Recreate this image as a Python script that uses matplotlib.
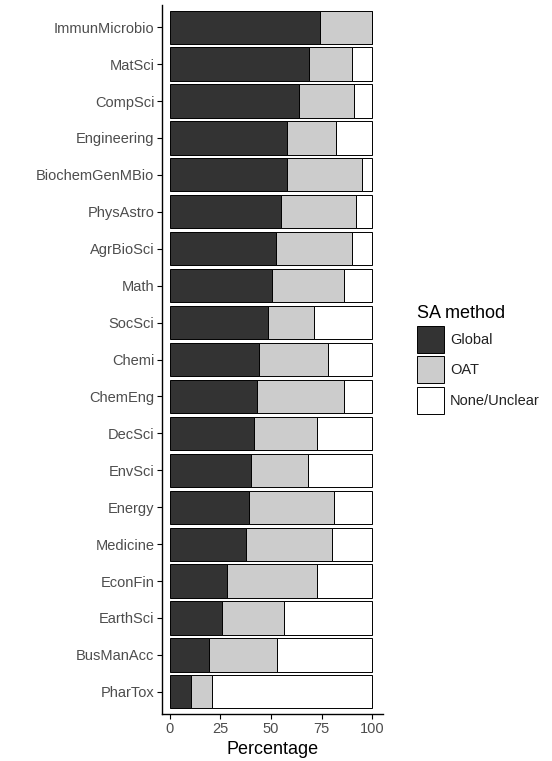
import matplotlib
matplotlib.use("Agg")
import matplotlib.pyplot as plt
from matplotlib.patches import Patch
import numpy as np

plt.rcParams['font.family'] = ['Liberation Sans', 'DejaVu Sans']

categories = ["ImmunMicrobio", "MatSci", "CompSci", "Engineering", "BiochemGenMBio",
              "PhysAstro", "AgrBioSci", "Math", "SocSci", "Chemi", "ChemEng", "DecSci",
              "EnvSci", "Energy", "Medicine", "EconFin", "EarthSci", "BusManAcc", "PharTox"]
global_pct = [74, 69, 64, 58, 58, 55, 52.5, 50.5, 48.5, 44.2, 43.3, 41.7, 40.4, 39.4,
              37.8, 28.6, 26, 19.6, 10.7]
oat_pct = [26, 21, 27, 24, 37, 37, 37.5, 35.5, 23, 34, 42.9, 31.2, 28, 41.7,
           42.5, 44, 30.5, 33.3, 10.5]
none_pct = [100 - g - o for g, o in zip(global_pct, oat_pct)]

series_names = ["Global", "OAT", "None/Unclear"]
colors = ["#333333", "#CCCCCC", "#FFFFFF"]
xticks = [0, 25, 50, 75, 100]

fig = plt.figure(figsize=(5.52, 7.61), dpi=100)
ax = fig.add_axes([162/552, 47/761, (383-162)/552, (756-47)/761])

n = len(categories)
y = np.arange(n)[::-1]
left = np.zeros(n)
for name, vals, col in zip(series_names, [global_pct, oat_pct, none_pct], colors):
    vals = np.array(vals, dtype=float)
    ax.barh(y, vals, left=left, height=0.9, color=col, edgecolor='black', linewidth=0.7, label=name)
    left += vals

ax.set_xlim(-3.7, 105.3)
ax.set_ylim(-0.6, n - 1 + 0.6)
ax.set_yticks(y)
ax.set_yticklabels(categories)
ax.set_xticks(xticks)
ax.set_xticklabels([str(t) for t in xticks])
ax.tick_params(axis='both', colors='black', labelcolor='#4D4D4D', labelsize=10.5, length=3.5, width=0.8, pad=2)
for s in ['top', 'right']:
    ax.spines[s].set_visible(False)
for s in ['left', 'bottom']:
    ax.spines[s].set_linewidth(1.0)
ax.set_xlabel("Percentage", fontsize=13, labelpad=4)

handles = [Patch(facecolor=c, edgecolor='black', linewidth=0.7, label=nm) for nm, c in zip(series_names, colors)]
leg = fig.legend(handles=handles, title="SA method", loc='upper left',
                 bbox_to_anchor=(407/552, 1 - 295/761), frameon=False,
                 fontsize=10.5, title_fontsize=13, handlelength=1.85, handleheight=2.45,
                 labelspacing=0.25, handletextpad=0.4, borderpad=0.2, alignment='left')
for t in leg.get_texts():
    t.set_color('#222222')

fig.savefig("out.png", dpi=100)
